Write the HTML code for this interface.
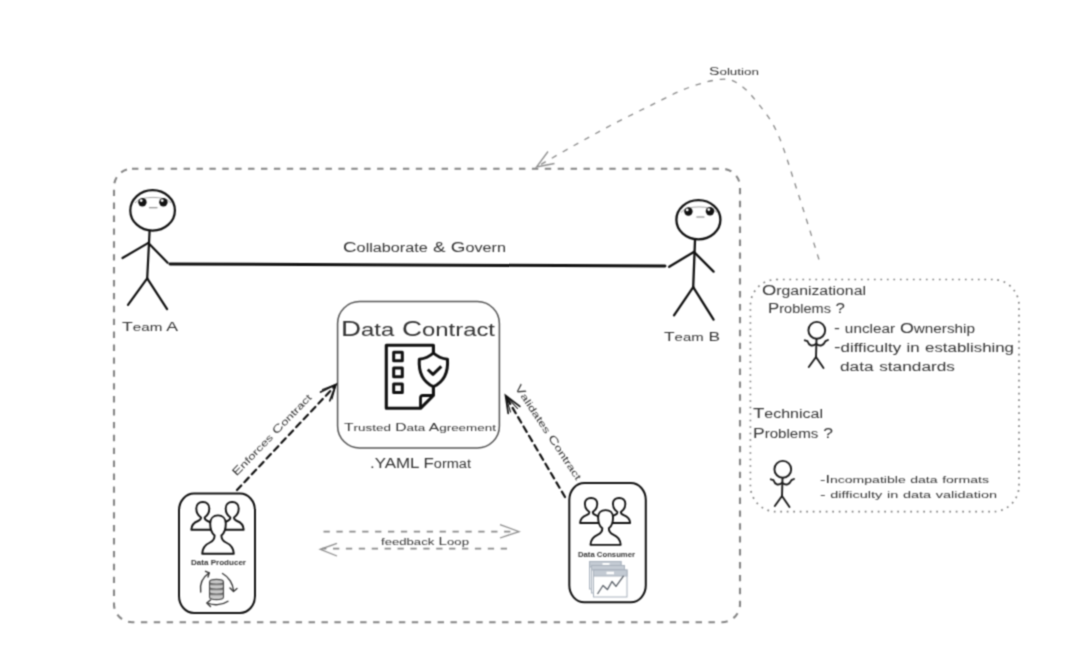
<!DOCTYPE html>
<html>
<head>
<meta charset="utf-8">
<title>Data Contract</title>
<style>
  html, body { margin: 0; padding: 0; background: #ffffff; }
  body { width: 1068px; height: 666px; overflow: hidden; position: relative; }
  svg { position: absolute; left: 0; top: 0; display: block; }
  text { font-family: "Liberation Sans", sans-serif; fill: #333; }
</style>
</head>
<body>
<svg width="1068" height="666" viewBox="0 0 1068 666">
  <defs>
    <filter id="soft" x="0" y="0" width="1068" height="666" filterUnits="userSpaceOnUse" color-interpolation-filters="sRGB">
      <feConvolveMatrix order="3" kernelMatrix="0.0439 0.1217 0.0439 0.1217 0.3377 0.1217 0.0439 0.1217 0.0439" divisor="1" edgeMode="duplicate" preserveAlpha="false"/>
    </filter>
  </defs>
  <rect x="0" y="0" width="1068" height="666" fill="#ffffff"/>
  <g filter="url(#soft)">

  <!-- ============ big dashed container ============ -->
  <rect x="114" y="168.800" width="626" height="453.400" rx="18" ry="18" fill="none" stroke="#858585" stroke-width="2.100" stroke-dasharray="6.400 6.500"/>

  <!-- ============ solution curved arrow ============ -->
  <path d="M819.0 259.5 C 815.2 247.6, 803.3 209.1, 796.4 188.2 C 789.5 167.2, 784.0 147.8, 777.7 133.8 C 771.5 119.9, 765.1 112.6, 758.9 104.5 C 752.6 96.4, 746.5 89.2, 740.2 85.0 C 734.0 80.8, 730.2 78.8, 721.4 79.3 C 712.6 79.8, 699.5 83.6, 687.6 88.0 C 675.7 92.4, 662.6 99.6, 650.1 105.7 C 637.6 111.8, 625.1 117.9, 612.6 124.4 C 600.1 131.0, 587.7 137.9, 575.0 145.0 C 562.3 152.1, 542.9 163.3, 536.5 167.0" fill="none" stroke="#8a8a8a" stroke-width="1.300" stroke-dasharray="5.500 6.900"/>
  <path d="M548 151.500 L536.500 167 L554.500 163.500" fill="none" stroke="#8e8e8e" stroke-width="1.300"/>
  <text x="709" y="75" font-size="11.500" textLength="50" lengthAdjust="spacingAndGlyphs" fill="#666" xml:space="preserve">S<tspan font-size="9.89">olution</tspan></text>

  <!-- ============ Team A ============ -->
  <g fill="none" stroke="#111" stroke-width="2.200" stroke-linecap="round" stroke-linejoin="round">
    <ellipse cx="152.600" cy="210.400" rx="22.300" ry="20.200"/>
    <path d="M149.600 231 L147.200 278.400"/>
    <path d="M148.400 242.900 L122.500 258"/>
    <path d="M148.400 242.900 L167.600 262.800"/>
    <path d="M147.200 278.400 L128 304.800"/>
    <path d="M147.200 278.400 L167.100 309.100"/>
    <path d="M149.500 207.800 L157 207.800" stroke-width="1.100" stroke="#777"/>
  </g>
  <path d="M135 203 C 140 195.500, 166 195.500, 171 203" fill="none" stroke="#999" stroke-width="0.900"/>
  <circle cx="142.400" cy="202.200" r="4.200" fill="#111"/>
  <circle cx="163.400" cy="202.200" r="4.200" fill="#111"/>
  <circle cx="141.200" cy="200.600" r="1.400" fill="#fff"/>
  <circle cx="162.200" cy="200.600" r="1.400" fill="#fff"/>
  <text x="122" y="331" font-size="13.500" textLength="56" lengthAdjust="spacingAndGlyphs" xml:space="preserve">T<tspan font-size="11.61">eam</tspan> A</text>

  <!-- ============ Team B ============ -->
  <g fill="none" stroke="#111" stroke-width="2.300" stroke-linecap="round" stroke-linejoin="round">
    <ellipse cx="698.400" cy="219.800" rx="22" ry="19.600"/>
    <path d="M695 240.500 L693.200 287.200"/>
    <path d="M693.900 251.900 L669.200 266.800"/>
    <path d="M693.900 251.900 L713.600 271.600"/>
    <path d="M693.200 287.200 L674 315.300"/>
    <path d="M693.200 287.200 L713.600 319.600"/>
    <path d="M696.800 217 L704 217" stroke-width="1.100" stroke="#777"/>
  </g>
  <path d="M681 212.500 C 686 205, 712 205, 717 212.500" fill="none" stroke="#999" stroke-width="0.900"/>
  <circle cx="688.400" cy="211.500" r="4.200" fill="#111"/>
  <circle cx="710" cy="211.200" r="4.200" fill="#111"/>
  <circle cx="687.200" cy="209.900" r="1.400" fill="#fff"/>
  <circle cx="708.800" cy="209.600" r="1.400" fill="#fff"/>
  <text x="664" y="340.500" font-size="13.500" textLength="56" lengthAdjust="spacingAndGlyphs" xml:space="preserve">T<tspan font-size="11.61">eam</tspan> B</text>

  <!-- ============ collaborate line ============ -->
  <path d="M170 264 L665 266" fill="none" stroke="#111" stroke-width="3" stroke-linecap="round"/>
  <text x="343" y="252" font-size="14" textLength="163" lengthAdjust="spacingAndGlyphs" xml:space="preserve">C<tspan font-size="12.04">ollaborate</tspan> &amp; G<tspan font-size="12.04">overn</tspan></text>

  <!-- ============ Data Contract box ============ -->
  <rect x="337.600" y="301.600" width="161.800" height="146.400" rx="22" ry="22" fill="none" stroke="#555" stroke-width="1.500"/>
  <text x="341" y="336" font-size="21.500" textLength="154" lengthAdjust="spacingAndGlyphs" fill="#222" xml:space="preserve">D<tspan font-size="18.49">ata</tspan> C<tspan font-size="18.49">ontract</tspan></text>
  <text x="344" y="431" font-size="10.500" textLength="152" lengthAdjust="spacingAndGlyphs" fill="#666" xml:space="preserve">T<tspan font-size="9.03">rusted</tspan> D<tspan font-size="9.03">ata</tspan> A<tspan font-size="9.03">greement</tspan></text>
  <text x="370" y="468" font-size="14.500" textLength="101" lengthAdjust="spacingAndGlyphs" fill="#222" xml:space="preserve">.YAML F<tspan font-size="12.47">ormat</tspan></text>

  <!-- document + shield icon -->
  <g fill="none" stroke="#111" stroke-width="3.100" stroke-linejoin="round" stroke-linecap="butt">
    <path d="M433.400 353 L433.400 345.200 L386.300 345.200 L386.300 408.300 L420.500 408.300 L433.400 395.500 L433.400 386"/>
    <path d="M420.500 408.300 L420.500 398 Q 420.500 395.500, 423 395.500 L433.400 395.500" stroke-width="2.800"/>
    <rect x="393.700" y="352.200" width="8.600" height="8.600" stroke-width="3"/>
    <rect x="393.700" y="368.100" width="8.600" height="8.600" stroke-width="3"/>
    <rect x="393.700" y="384" width="8.600" height="8.600" stroke-width="3"/>
    <path d="M433.400 353 C 429.500 356.500, 425 358.500, 419.300 359.300 C 418.300 374, 423.500 382, 433.400 386.700 C 443.300 382, 448.500 374, 447.500 359.300 C 441.800 358.500, 437.300 356.500, 433.400 353 Z" fill="#fff" stroke-width="3"/>
    <path d="M427.800 369.500 L433 374.300 L441.300 366.300" stroke-width="3"/>
  </g>

  <!-- ============ Enforces contract arrow ============ -->
  <g fill="none" stroke="#111" stroke-width="2.200" stroke-linecap="round">
    <path d="M237 490 L335 386" stroke-dasharray="6.200 4.600"/>
    <path d="M320.600 392.100 L336 384.500 L329.800 400.800" stroke-width="1.700"/>
    <path d="M322.500 389.500 L336 384.500 L332 399" stroke-width="1.100"/>
  </g>
  <text transform="translate(236.500 476.500) rotate(-46)" x="0" y="0" font-size="11" textLength="109" lengthAdjust="spacingAndGlyphs" fill="#666" xml:space="preserve">E<tspan font-size="9.46">nforces</tspan> C<tspan font-size="9.46">ontract</tspan></text>

  <!-- ============ Validates contract arrow ============ -->
  <g fill="none" stroke="#111" stroke-width="2.200" stroke-linecap="round">
    <path d="M565 497 L506.500 397.500" stroke-dasharray="6.200 4.600"/>
    <path d="M519.800 406.400 L505.500 395.500 L508.200 413.300" stroke-width="1.700"/>
    <path d="M517.500 408.500 L505.500 395.500 L510.500 412" stroke-width="1.100"/>
  </g>
  <text transform="translate(514.500 387.500) rotate(56.500)" x="0" y="0" font-size="11" textLength="112" lengthAdjust="spacingAndGlyphs" fill="#666" xml:space="preserve">V<tspan font-size="9.46">alidates</tspan> C<tspan font-size="9.46">ontract</tspan></text>

  <!-- ============ Data Producer box ============ -->
  <rect x="179" y="493.500" width="76" height="119.500" rx="15" ry="17" fill="none" stroke="#111" stroke-width="2"/>
  <g id="people" fill="#fff" stroke="#111" stroke-width="1.900" stroke-linejoin="round">
    <!-- back-left person -->
    <path vector-effect="non-scaling-stroke" d="M 191.3 529.7 C 191.5 525.0, 194.0 522.5, 198.0 521.0 C 200.0 520.2, 201.0 519.0, 201.0 517.5 C 198.0 515.5, 196.3 512.0, 196.3 508.5 C 196.3 504.5, 199.0 502.0, 202.8 502.0 C 206.6 502.0, 209.3 504.5, 209.3 508.5 C 209.3 512.0, 207.6 515.5, 204.6 517.5 C 204.6 519.0, 205.6 520.2, 207.6 521.0 C 211.6 522.5, 214.1 525.0, 214.3 529.7 Z"/>
    <!-- back-right person -->
    <path vector-effect="non-scaling-stroke" d="M 220.7 529.7 C 220.9 525.0, 223.4 522.5, 227.4 521.0 C 229.4 520.2, 230.4 519.0, 230.4 517.5 C 227.4 515.5, 225.7 512.0, 225.7 508.5 C 225.7 504.5, 228.4 502.0, 232.2 502.0 C 236.0 502.0, 238.7 504.5, 238.7 508.5 C 238.7 512.0, 237.0 515.5, 234.0 517.5 C 234.0 519.0, 235.0 520.2, 237.0 521.0 C 241.0 522.5, 243.5 525.0, 243.7 529.7 Z"/>
    <!-- front person -->
    <path vector-effect="non-scaling-stroke" d="M202.2 553.8 C 202.4 548, 205.5 544.5, 210 542.5 C 213 541.2, 214.6 539, 214.6 535.6 C 211.5 533, 210.2 528, 210.2 523.5 C 210.2 518.5, 213.5 515.4, 218 515.4 C 222.5 515.4, 225.8 518.5, 225.8 523.5 C 225.8 528, 224.5 533, 221.4 535.6 C 221.4 539, 223 541.2, 226 542.5 C 230.5 544.5, 233.6 548, 233.8 553.8 Z"/>
  </g>
  <text x="191" y="565" font-size="7.500" font-weight="bold" textLength="55" lengthAdjust="spacingAndGlyphs" fill="#222">Data Producer</text>
  <!-- db refresh icon -->
  <g fill="none" stroke="#333" stroke-width="1.350" stroke-linecap="round" stroke-linejoin="round">
    <path d="M200.700 592 C 199.500 584, 203 577, 209 573"/>
    <path d="M205.500 571.300 L209.300 572.800 L208 577"/>
    <path d="M222.500 573.500 C 229 577, 233 584, 233.500 590.500"/>
    <path d="M230 588 L233.500 591.500 L237 588.500"/>
    <path d="M228 601.300 C 222 605.500, 213 605.500, 207.500 603"/>
    <path d="M210.500 600 L206.800 603 L210.500 606.500"/>
  </g>
  <g stroke="#4a4a4a" stroke-width="1.100" fill="none">
    <path d="M209.500 582 L209.500 597 C 209.500 600.500, 223.500 600.500, 223.500 597 L223.500 582 C 223.500 578.500, 209.500 578.500, 209.500 582 Z" fill="#c9c9c9"/>
    <path d="M209.500 582 C 209.500 585, 223.500 585, 223.500 582"/>
    <path d="M209.500 587 C 209.500 590, 223.500 590, 223.500 587"/>
    <path d="M209.500 592 C 209.500 595, 223.500 595, 223.500 592"/>
    <path d="M210 584.500 L223 584.500 M210 589.500 L223 589.500 M210 594.500 L223 594.500" stroke="#7a7a7a" stroke-width="1.400"/>
  </g>

  <!-- ============ Data Consumer box ============ -->
  <rect x="569.300" y="483" width="76.500" height="119.300" rx="15" ry="17" fill="none" stroke="#111" stroke-width="2"/>
  <use href="#people" transform="translate(605.200 521.400) scale(0.955 0.905) translate(-217.600 -527.900)"/>
  <text x="578" y="556.500" font-size="7.500" font-weight="bold" textLength="57" lengthAdjust="spacingAndGlyphs" fill="#222">Data Consumer</text>
  <!-- chart windows icon -->
  <g stroke="#a9b2bd" stroke-width="1">
    <rect x="589.500" y="561.500" width="31.500" height="27.500" fill="#f3f5f7"/>
    <rect x="589.500" y="561.500" width="31.500" height="5.500" fill="#c3cad3"/>
    <rect x="602.500" y="563" width="7" height="2.500" fill="#fff" stroke="none"/>
    <rect x="591.500" y="565.500" width="33" height="27.500" fill="#f6f7f9"/>
    <rect x="591.500" y="565.500" width="33" height="4.500" fill="#c3cad3"/>
    <rect x="593.500" y="570" width="33.500" height="27" fill="#fff"/>
    <rect x="593.500" y="570" width="33.500" height="6" fill="#c3cad3"/>
    <rect x="606.500" y="571.700" width="7.500" height="2.600" fill="#fff" stroke="none"/>
    <path d="M597.500 594 L603 585.500 L607.400 589.600 L612 581.500 L616 586.400 L623.600 575.800" fill="none" stroke="#5a6068" stroke-width="1.300" stroke-linejoin="round"/>
  </g>

  <!-- ============ feedback loop ============ -->
  <g fill="none" stroke="#8c8c8c" stroke-width="1.700">
    <path d="M323.500 531.600 L517 531.600" stroke-dasharray="6.300 6.600"/>
    <path d="M500 524.600 L519 531.600 L500 538" stroke-width="1.300"/>
    <path d="M507 548.700 L322 548.700" stroke-dasharray="6.300 6.600"/>
    <path d="M337 543.300 L320.200 549.300 L337 556" stroke-width="1.300"/>
  </g>
  <text x="381" y="545" font-size="11" textLength="88" lengthAdjust="spacingAndGlyphs" fill="#7a7a7a" xml:space="preserve"><tspan font-size="9.46">feedback</tspan> L<tspan font-size="9.46">oop</tspan></text>

  <!-- ============ problems dotted box ============ -->
  <rect x="750.400" y="279.500" width="268.600" height="232.200" rx="26" ry="26" fill="none" stroke="#808080" stroke-width="1.700" stroke-dasharray="1.700 4.800"/>
  <text x="762" y="295" font-size="14.500" textLength="104" lengthAdjust="spacingAndGlyphs" fill="#444" xml:space="preserve">O<tspan font-size="12.47">rganizational</tspan></text>
  <text x="768" y="313" font-size="14.500" textLength="77" lengthAdjust="spacingAndGlyphs" fill="#444" xml:space="preserve">P<tspan font-size="12.47">roblems</tspan> ?</text>
  <text x="834" y="333" font-size="14" textLength="141" lengthAdjust="spacingAndGlyphs" fill="#444" xml:space="preserve">- <tspan font-size="12.04">unclear</tspan> O<tspan font-size="12.04">wnership</tspan></text>
  <text x="834" y="352" font-size="14" textLength="180" lengthAdjust="spacingAndGlyphs" fill="#444" xml:space="preserve">-<tspan font-size="12.04">difficulty</tspan> <tspan font-size="12.04">in</tspan> <tspan font-size="12.04">establishing</tspan></text>
  <text x="840" y="371" font-size="14" textLength="115" lengthAdjust="spacingAndGlyphs" fill="#444" xml:space="preserve"><tspan font-size="12.04">data</tspan> <tspan font-size="12.04">standards</tspan></text>

  <text x="753" y="418" font-size="14.500" textLength="70" lengthAdjust="spacingAndGlyphs" fill="#444" xml:space="preserve">T<tspan font-size="12.47">echnical</tspan></text>
  <text x="753" y="438" font-size="14.500" textLength="80" lengthAdjust="spacingAndGlyphs" fill="#444" xml:space="preserve">P<tspan font-size="12.47">roblems</tspan> ?</text>
  <text x="820" y="483" font-size="11.500" textLength="169" lengthAdjust="spacingAndGlyphs" fill="#555" xml:space="preserve">-I<tspan font-size="9.89">ncompatible</tspan> <tspan font-size="9.89">data</tspan> <tspan font-size="9.89">formats</tspan></text>
  <text x="820" y="498" font-size="11.500" textLength="177" lengthAdjust="spacingAndGlyphs" fill="#555" xml:space="preserve">- <tspan font-size="9.89">difficulty</tspan> <tspan font-size="9.89">in</tspan> <tspan font-size="9.89">data</tspan> <tspan font-size="9.89">validation</tspan></text>

  <!-- shrug stick figure 1 -->
  <g id="shrug" fill="none" stroke="#1a1a1a" stroke-width="1.900" stroke-linecap="round" stroke-linejoin="round">
    <circle cx="816.800" cy="330.300" r="8.400"/>
    <path d="M816.500 339 L816 357"/>
    <path d="M804.800 340.300 L807.500 341.200 C 809 345.500, 812 347, 816.200 343.800 C 820 347, 823.500 345.500, 825.500 341.200 L 828 340"/>
    <path d="M816 357 L808.800 367"/>
    <path d="M816 357 L823.500 368"/>
  </g>
  <use href="#shrug" x="-34" y="139"/>

  </g>
</svg>
</body>
</html>
